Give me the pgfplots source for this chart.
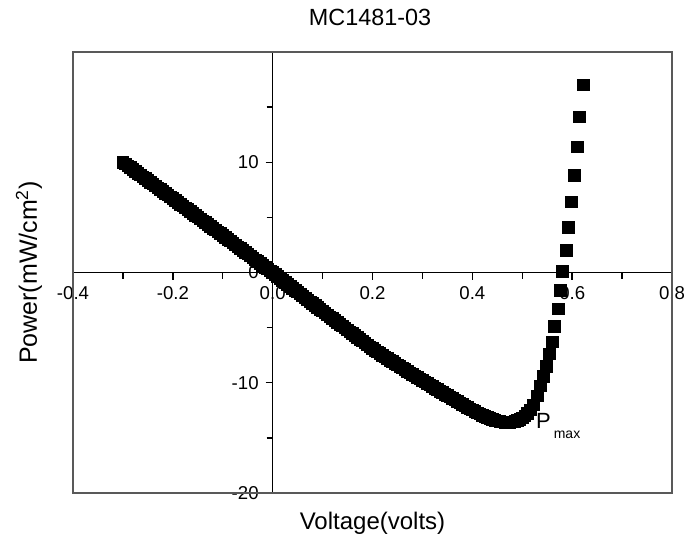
\documentclass[border=0pt]{standalone}
\usepackage{fontspec}
\setmainfont{Liberation Sans}
\usepackage{pgfplots}
\pgfplotsset{compat=1.18}
\begin{document}
\begin{tikzpicture}
\useasboundingbox (-36.5pt,-24pt) rectangle (305.5pt,246.5pt);
\begin{axis}[
  scale only axis, width=299.5pt, height=220.5pt,
  xmin=-0.4, xmax=0.8, ymin=-20, ymax=20,
  axis lines=middle,
  axis line style={black, line width=0.8pt, -},
  xtick={-0.4,-0.2,0,0.2,0.4,0.6,0.8},
  minor xtick={-0.3,-0.1,0.1,0.3,0.5,0.7},
  ytick={-20,-10,0,10},
  minor ytick={-15,-5,5,15},
  tick align=outside,
  major tick length=3.5pt, minor tick length=3pt,
  tick style={black, line width=0.7pt},
  hide obscured x ticks=false, hide obscured y ticks=false,
  /pgf/number format/assume math mode=true,
  xticklabel style={/pgf/number format/fixed, /pgf/number format/precision=1, /pgf/number format/fixed zerofill, font=\fontsize{9.3}{10}\selectfont},
  yticklabel style={font=\fontsize{9.3}{10}\selectfont},
  clip mode=individual,
  title={MC1481-03},
  every axis title/.style={at={(axis description cs:0.496,1.060)}, anchor=base, font=\fontsize{11.7}{13}\selectfont},
  xlabel={Voltage(volts)},
  ylabel={Power(mW/cm\textsuperscript{2})},
  every axis x label/.style={at={(axis description cs:0.5,-0.0828)}, anchor=base, font=\fontsize{12}{13}\selectfont},
  every axis y label/.style={at={(axis description cs:-0.0735,0.5)}, anchor=center, rotate=90, font=\fontsize{12.5}{14}\selectfont},
]
\draw[black!65, line width=0.6pt] (rel axis cs:0,0) rectangle (rel axis cs:1,1);
\addplot[only marks, mark=square*, mark size=2.9pt, black] coordinates {
(-0.300,10.00) (-0.295,9.84) (-0.290,9.67) (-0.285,9.51) (-0.280,9.34) (-0.275,9.18)
(-0.270,9.01) (-0.265,8.85) (-0.260,8.68) (-0.255,8.52) (-0.250,8.35) (-0.245,8.19)
(-0.240,8.02) (-0.235,7.86) (-0.230,7.69) (-0.225,7.53) (-0.220,7.36) (-0.215,7.20)
(-0.210,7.03) (-0.205,6.87) (-0.200,6.70) (-0.195,6.54) (-0.190,6.37) (-0.185,6.20)
(-0.180,6.03) (-0.175,5.87) (-0.170,5.70) (-0.165,5.53) (-0.160,5.36) (-0.155,5.20)
(-0.150,5.03) (-0.145,4.86) (-0.140,4.69) (-0.135,4.52) (-0.130,4.35) (-0.125,4.19)
(-0.120,4.02) (-0.115,3.85) (-0.110,3.68) (-0.105,3.52) (-0.100,3.35) (-0.095,3.18)
(-0.090,3.01) (-0.085,2.85) (-0.080,2.68) (-0.075,2.51) (-0.070,2.34) (-0.065,2.17)
(-0.060,2.00) (-0.055,1.84) (-0.050,1.67) (-0.045,1.50) (-0.040,1.33) (-0.035,1.16)
(-0.030,0.99) (-0.025,0.83) (-0.020,0.66) (-0.015,0.49) (-0.010,0.32) (-0.005,0.16)
(0.000,-0.01) (0.005,-0.19) (0.010,-0.37) (0.015,-0.55) (0.020,-0.72) (0.025,-0.90)
(0.030,-1.07) (0.035,-1.25) (0.040,-1.42) (0.045,-1.60) (0.050,-1.77) (0.055,-1.95)
(0.060,-2.12) (0.065,-2.30) (0.070,-2.47) (0.075,-2.65) (0.080,-2.82) (0.085,-2.99)
(0.090,-3.16) (0.095,-3.33) (0.100,-3.50) (0.105,-3.67) (0.110,-3.84) (0.115,-4.01)
(0.120,-4.18) (0.125,-4.35) (0.130,-4.52) (0.135,-4.69) (0.140,-4.86) (0.145,-5.03)
(0.150,-5.20) (0.155,-5.37) (0.160,-5.54) (0.165,-5.71) (0.170,-5.88) (0.175,-6.05)
(0.180,-6.22) (0.185,-6.39) (0.190,-6.56) (0.195,-6.73) (0.200,-6.90) (0.205,-7.05)
(0.210,-7.20) (0.215,-7.35) (0.220,-7.50) (0.225,-7.65) (0.230,-7.80) (0.235,-7.95)
(0.240,-8.09) (0.245,-8.24) (0.250,-8.38) (0.255,-8.53) (0.260,-8.67) (0.265,-8.81)
(0.270,-8.95) (0.275,-9.09) (0.280,-9.23) (0.285,-9.37) (0.290,-9.51) (0.295,-9.65)
(0.300,-9.79) (0.305,-9.93) (0.310,-10.07) (0.315,-10.21) (0.320,-10.35) (0.325,-10.49)
(0.330,-10.62) (0.335,-10.76) (0.340,-10.89) (0.345,-11.03) (0.350,-11.16) (0.355,-11.30)
(0.360,-11.43) (0.365,-11.57) (0.370,-11.70) (0.375,-11.84) (0.380,-11.97) (0.385,-12.10)
(0.390,-12.23) (0.395,-12.36) (0.400,-12.48) (0.405,-12.60) (0.410,-12.72) (0.415,-12.83)
(0.420,-12.94) (0.425,-13.04) (0.430,-13.14) (0.435,-13.23) (0.440,-13.32) (0.445,-13.40)
(0.450,-13.46) (0.455,-13.52) (0.460,-13.56) (0.465,-13.59) (0.470,-13.60) (0.475,-13.59)
(0.480,-13.56) (0.485,-13.50) (0.490,-13.42) (0.495,-13.31) (0.500,-13.18) (0.505,-13.00)
(0.510,-12.78) (0.516,-12.45) (0.522,-12.00) (0.530,-11.2) (0.536,-10.3) (0.542,-9.4)
(0.548,-8.5) (0.554,-7.4) (0.560,-6.3) (0.564,-4.9) (0.572,-3.3) (0.576,-1.6)
(0.580,0.1) (0.588,2.0) (0.592,4.1) (0.598,6.4) (0.604,8.8) (0.610,11.4)
(0.614,14.1) (0.622,17.0) (0.628,20.1)
};
\node[anchor=west, inner sep=0pt, font=\fontsize{11}{12}\selectfont] at (axis cs:0.527,-13.9) {P\hspace{1.5pt}\raisebox{-5pt}{\fontsize{7}{8}\selectfont max}};
\end{axis}
\end{tikzpicture}
\end{document}
